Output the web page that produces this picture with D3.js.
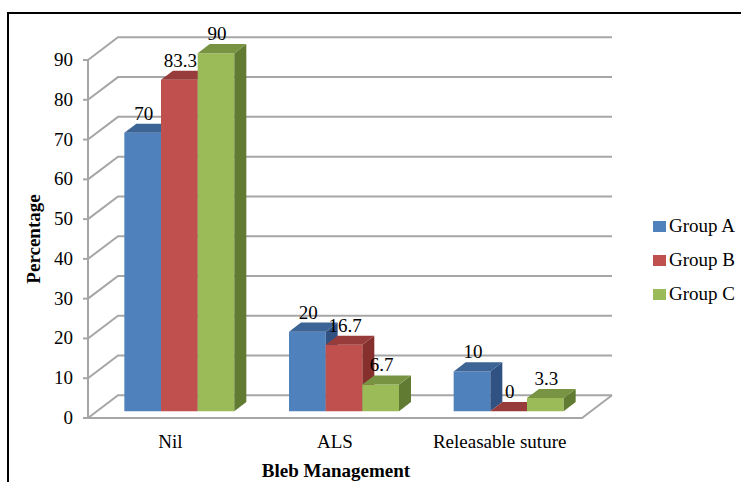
<!DOCTYPE html>
<html>
<head>
<meta charset="utf-8">
<script src="https://cdn.jsdelivr.net/npm/d3@7"></script>
<style>
  body { margin: 0; background: #fff; }
  svg text { font-family: "Liberation Serif", "DejaVu Serif", serif; }
</style>
</head>
<body>
<div id="chart"></div>
<script>
// Bleb management by group, 3D clustered column chart

const categories = ['Nil', 'ALS', 'Releasable suture'];
const seriesNames = ['Group A', 'Group B', 'Group C'];
const groupA = [70, 20, 10];
const groupB = [83.3, 16.7, 0];
const groupC = [90, 6.7, 3.3];
const yTicks = [0, 10, 20, 30, 40, 50, 60, 70, 80, 90];

const CONFIG = {
  width: 741,
  height: 482,
  plot: { left: 88, right: 582, top: 60, bottom: 418 },
  depth: { dx: 30, dy: -22.7 },   // floor / wall depth projection
  barZ: [0.3, 0.7],                // bars sit in the middle of the depth
  grid: '#a6a6a6',
  colors: {
    front: ['#4f81bd', '#c0504d', '#9bbb59'],
    top:   ['#3c6494', '#973c3a', '#789443'],
    side:  ['#2f5282', '#86302e', '#627b33']
  }
};

const series = [groupA, groupB, groupC];

const svg = d3.select('#chart')
  .append('svg')
  .attr('width', CONFIG.width)
  .attr('height', CONFIG.height);

const plotL = CONFIG.plot.left, plotR = CONFIG.plot.right;
const plotT = CONFIG.plot.top, plotB = CONFIG.plot.bottom;
const { dx, dy } = CONFIG.depth;

// scales
const y = d3.scaleLinear().domain([0, 90]).range([plotB, plotT]);
const x = d3.scaleBand().domain(categories).range([plotL, plotR]);
const groupWidth = x.bandwidth() * 0.668;
const xs = d3.scaleBand().domain(seriesNames).range([0, groupWidth]);

// project a point on the front plane back by depth z (0..1)
const proj = (px, py, z) => [px + dx * z, py + dy * z];

// outer frame
svg.append('path')
  .attr('d', `M8,${CONFIG.height} L8,13 L${CONFIG.width},13`)
  .attr('fill', 'none')
  .attr('stroke', '#000')
  .attr('stroke-width', 2);

// walls: back grid lines + side wall diagonals
const grid = svg.append('g').attr('stroke', CONFIG.grid).attr('stroke-width', 2).attr('fill', 'none');
yTicks.forEach(t => {
  const [bx, by] = proj(plotL, y(t), 1);
  const [ex] = proj(plotR, y(t), 1);
  grid.append('path').attr('d', `M${plotL},${y(t)} L${bx},${by} L${ex},${by}`);
});
// front vertical axis and floor front edge
grid.append('line').attr('x1', plotL).attr('x2', plotL).attr('y1', y(90)).attr('y2', y(0));
const [fr, fry] = proj(plotR, y(0), 1);
grid.append('path').attr('d', `M${plotL},${y(0)} L${plotR},${y(0)} L${fr},${fry}`);

// y tick marks and labels
const yAxis = svg.append('g');
yTicks.forEach(t => {
  yAxis.append('line')
    .attr('x1', plotL - 5).attr('x2', plotL)
    .attr('y1', y(t)).attr('y2', y(t))
    .attr('stroke', CONFIG.grid).attr('stroke-width', 2);
  yAxis.append('text')
    .attr('x', plotL - 15)
    .attr('y', y(t) + 6)
    .attr('text-anchor', 'end')
    .style('font-size', '19px')
    .style('fill', '#000')
    .text(t);
});

// bars, drawn left to right so later bars cover the earlier side faces
const bars = svg.append('g');
const [z0, z1] = CONFIG.barZ;
categories.forEach((cat, ci) => {
  const gx = x(cat) + (x.bandwidth() - groupWidth) / 2;
  series.forEach((vals, si) => {
    const v = vals[ci];
    const fx0 = gx + xs(seriesNames[si]);
    const fx1 = fx0 + xs.bandwidth();
    const a = proj(fx0, y(v), z0), b = proj(fx1, y(v), z0);
    const c = proj(fx1, y(0), z0), d = proj(fx0, y(0), z0);
    const tb = proj(fx1, y(v), z1), ta = proj(fx0, y(v), z1);
    const cb = proj(fx1, y(0), z1);
    const pts = p => 'M' + p.map(q => q.join(',')).join('L') + 'Z';

    if (v > 0) {
      bars.append('path').attr('d', pts([a, b, c, d])).attr('fill', CONFIG.colors.front[si]);
      bars.append('path').attr('d', pts([b, tb, cb, c])).attr('fill', CONFIG.colors.side[si]);
    }
    bars.append('path').attr('d', pts([a, b, tb, ta])).attr('fill', CONFIG.colors.top[si]);

    // data label above the top face
    svg.append('text')
      .attr('x', (fx0 + fx1) / 2 + 1 + dx * z0)
      .attr('y', ta[1] - 4)
      .attr('text-anchor', 'middle')
      .style('font-size', '19px')
      .style('fill', '#000')
      .text(v);
  });

  // category label
  svg.append('text')
    .attr('x', x(cat) + x.bandwidth() / 2)
    .attr('y', 448)
    .attr('text-anchor', 'middle')
    .style('font-size', '19px')
    .text(cat);
});

// axis titles
svg.append('text')
  .attr('transform', 'translate(40, 239) rotate(-90)')
  .attr('text-anchor', 'middle')
  .style('font-size', '19px')
  .style('font-weight', 'bold')
  .text('Percentage');

svg.append('text')
  .attr('x', 336)
  .attr('y', 477)
  .attr('text-anchor', 'middle')
  .style('font-size', '19px')
  .style('font-weight', 'bold')
  .text('Bleb Management');

// legend
const legend = svg.append('g').attr('transform', 'translate(653, 221)');
seriesNames.forEach((name, i) => {
  const item = legend.append('g').attr('transform', `translate(0, ${i * 34})`);
  item.append('rect')
    .attr('width', 13).attr('height', 11)
    .attr('fill', CONFIG.colors.front[i]);
  item.append('text')
    .attr('x', 16)
    .attr('y', 11)
    .style('font-size', '19px')
    .text(name);
});
</script>
</body>
</html>
